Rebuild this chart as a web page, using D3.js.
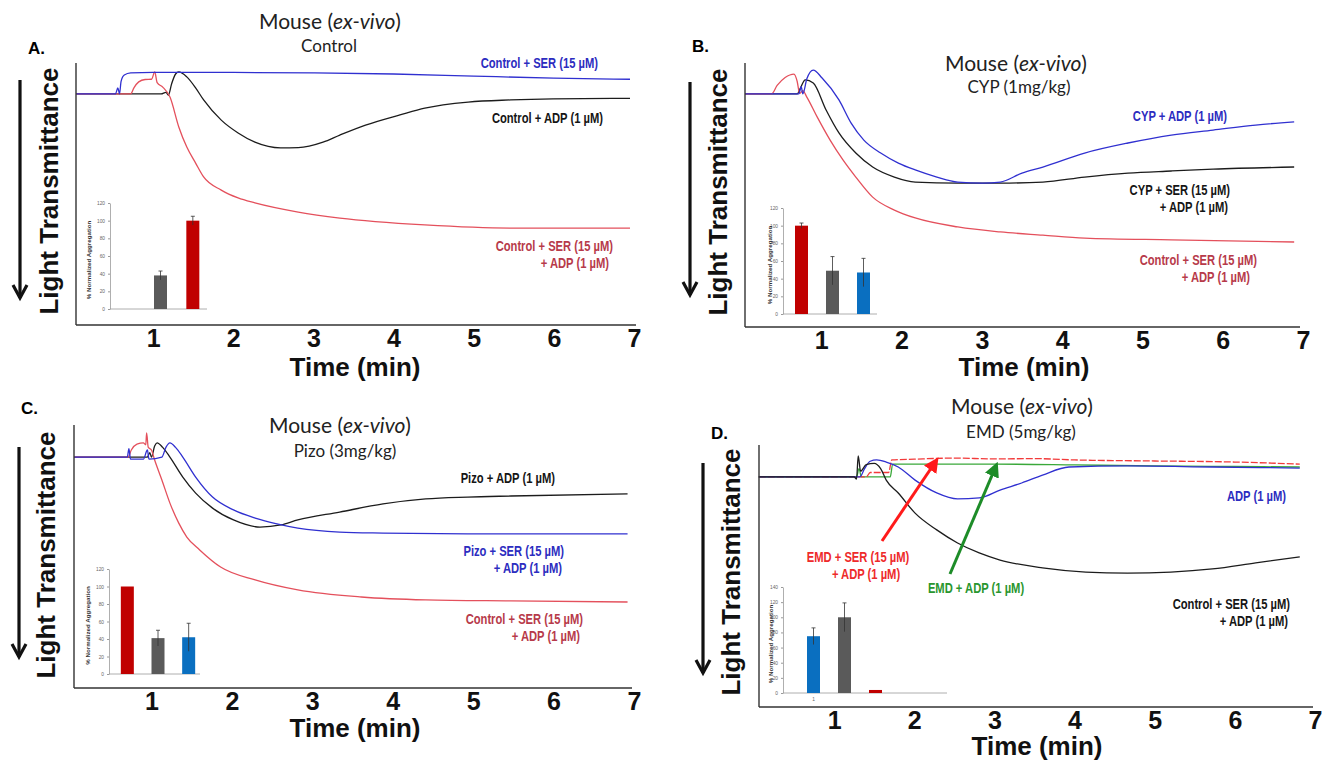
<!DOCTYPE html>
<html>
<head>
<meta charset="utf-8">
<script src="https://cdn.jsdelivr.net/npm/d3@7"></script>
<style>
  body { margin: 0; background: #fff; }
  svg { display: block; }
</style>
</head>
<body>
<svg id="fig" width="1324" height="762"></svg>
<script>
// ---------------------------------------------------------------
// Aggregometry traces: [time (min), trace depth below panel top (% of panel height)]
// ---------------------------------------------------------------
const timeTicks = [1, 2, 3, 4, 5, 6, 7];

// Panel A – Control
const ctrlSerA = [[0.04,11.8],[0.53,11.8],[0.56,9.5],[0.58,11.8],[0.6,7],[0.64,4.6],[0.72,3.8],[1.0,3.6],[2.0,3.6],[3.0,3.8],[4.0,4.2],[5.0,5.0],[6.0,5.8],[6.95,6.2]];
const ctrlAdpA = [[0.04,11.8],[1.1,11.8],[1.16,11.2],[1.19,12.3],[1.23,8],[1.28,4.2],[1.32,3.4],[1.42,5.3],[1.53,9.5],[1.63,14.1],[1.85,21.8],[2.06,26.7],[2.27,30.2],[2.59,32.4],[2.81,32.3],[3.12,30.2],[3.33,27.5],[3.65,23.7],[4.08,19.8],[4.39,17.2],[4.93,14.9],[5.46,14.1],[5.99,13.7],[6.95,13.5]];
const ctrlSerAdpA = [[0.04,11.8],[0.72,11.8],[0.76,9.5],[0.82,7.2],[0.9,6.3],[0.98,6.2],[1.02,3.4],[1.05,7.5],[1.12,9.2],[1.21,13.0],[1.32,24.4],[1.42,32.1],[1.53,38.2],[1.63,43.5],[1.85,48.5],[2.06,51.5],[2.27,53.4],[2.81,56.9],[3.33,59.2],[4.39,61.8],[5.46,63.0],[6.95,63.0]];

// Panel B – CYP (1 mg/kg)
const cypAdpB = [[0.05,11.7],[0.72,11.7],[0.75,9],[0.77,11.7],[0.82,6],[0.90,2.7],[1.01,5.7],[1.22,14.0],[1.37,22.7],[1.53,29.2],[1.74,34.1],[1.96,37.9],[2.17,40.5],[2.44,43.2],[2.70,45.1],[3.01,45.5],[3.23,45.1],[3.50,41.7],[3.76,39.4],[4.28,34.1],[4.82,30.3],[5.36,27.3],[5.88,25.4],[6.41,23.5],[6.89,22.3]];
const cypSerAdpB = [[0.05,11.7],[0.70,11.7],[0.74,9.5],[0.80,6.4],[0.90,7.6],[1.06,17.8],[1.22,26.5],[1.43,34.1],[1.64,39.4],[1.91,43.2],[2.17,45.1],[2.70,45.5],[3.23,45.5],[3.76,45.1],[4.28,43.2],[4.82,41.7],[5.36,40.9],[5.88,40.2],[6.89,39.4]];
const ctrlSerAdpB = [[0.05,11.7],[0.38,11.7],[0.45,8.5],[0.55,5.5],[0.66,4.2],[0.70,7],[0.73,11.5],[0.77,10.5],[0.82,12.9],[0.95,20.5],[1.11,29.2],[1.27,36.7],[1.43,43.2],[1.64,50.8],[1.91,55.7],[2.17,58.7],[2.70,62.1],[3.23,64.0],[3.76,65.2],[4.28,66.3],[5.36,67.0],[6.89,67.8]];

// Panel C – Pizo (3 mg/kg)
const pizoAdpC = [[0.04,12.2],[0.95,12.2],[0.98,10.5],[1.0,12.2],[1.04,8],[1.07,6.8],[1.14,8.5],[1.23,12.2],[1.39,19.8],[1.55,25.9],[1.76,31.6],[2.02,36.1],[2.35,38.8],[2.61,38.0],[2.82,36.1],[3.34,33.1],[3.88,30.0],[4.41,28.1],[4.93,27.4],[5.47,27.0],[6.92,26.2]];
const pizoSerAdpC = [[0.04,12.2],[0.7,12.2],[0.72,9],[0.74,13],[0.9,13],[0.95,9.5],[0.97,13],[1.13,12.2],[1.18,8.5],[1.23,6.8],[1.30,8.5],[1.39,12.2],[1.55,19.8],[1.76,27.4],[2.02,32.3],[2.29,35.4],[2.56,37.6],[2.82,39.2],[3.34,40.7],[3.88,41.1],[4.93,41.4],[6.92,41.4]];
const ctrlSerAdpC = [[0.04,12.2],[0.71,12.2],[0.75,9.5],[0.82,7.3],[0.90,6.8],[0.93,7.5],[0.94,3.0],[0.96,8.4],[1.00,9.5],[1.04,13.3],[1.13,20.9],[1.23,29.7],[1.34,37.3],[1.44,42.6],[1.60,47.5],[1.86,54.0],[2.29,58.9],[2.82,62.7],[3.61,65.4],[4.41,66.5],[5.47,66.9],[6.92,67.3]];

// Panel D – EMD (5 mg/kg)
const ctrlSerAdpD = [[0.06,12.2],[1.25,12.2],[1.28,13],[1.30,4.2],[1.33,10],[1.40,7.5],[1.50,7],[1.58,9],[1.65,13.4],[1.80,18.3],[2.01,26.0],[2.28,32.4],[2.54,37.4],[2.81,41.2],[3.07,43.9],[3.60,46.9],[4.14,48.5],[4.66,48.9],[5.20,48.5],[5.72,47.3],[6.26,45.0],[6.81,42.7]];
const adpD = [[0.06,12.2],[1.32,12.2],[1.38,9],[1.45,6.2],[1.53,5.7],[1.65,6.5],[1.80,8.4],[2.01,13.4],[2.28,18.3],[2.54,20.6],[2.81,20.2],[3.07,17.2],[3.34,14.5],[3.60,11.5],[3.93,8.4],[4.66,8.0],[5.72,8.4],[6.81,8.8]];
const emdSerAdpD = [[0.06,12.2],[1.40,12.2],[1.45,10.5],[1.68,10.5],[1.72,5.7],[2.0,5.4],[2.5,5.0],[3.0,5.3],[3.5,5.2],[4.0,5.7],[5.0,6.1],[6.0,6.5],[6.81,7.3]];
const emdAdpD = [[0.06,12.2],[1.28,12.2],[1.31,9],[1.34,12.2],[1.70,12.2],[1.73,7.3],[3,7.3],[4,7.6],[5,8.0],[6,8.2],[6.81,8.4]];

// Inset bar charts: % normalized aggregation (mean, error)
const insetCatsA = ["Control + SER", "Control + ADP", "Control + SER + ADP"];
const insetValsA = [0, 38, 100];
const insetErrA  = [0, 5, 5];
const insetCatsB = ["Control + SER + ADP", "CYP + SER + ADP", "CYP + ADP"];
const insetValsB = [100, 49, 47];
const insetErrB  = [3, 16, 16];
const insetCatsC = ["Control + SER + ADP", "Pizo + ADP", "Pizo + SER + ADP"];
const insetValsC = [100, 41, 42];
const insetErrC  = [0, 9, 16];
const insetCatsD = ["ADP", "Control + SER + ADP", "EMD + SER + ADP"];
const insetValsD = [75, 100, 4];
const insetErrD  = [11, 19, 0];
const insetTicks120 = [0, 20, 40, 60, 80, 100, 120];
const insetTicks140 = [0, 20, 40, 60, 80, 100, 120, 140];

// ---------------------------------------------------------------
const C = {
  blue: "#3030d0", black: "#1c1c1c", red: "#e4505c",
  blueTxt: "#2c2cc0", redTxt: "#b73a4a", blackTxt: "#151515",
  redD: "#f23a3a", greenD: "#3aa83a", redTxtD: "#ee2a2a", greenTxtD: "#2a962e",
  barRed: "#c00000", barGray: "#5a5a5a", barBlue: "#0a6fc0"
};
const boldFont = "'Liberation Sans', Arial, sans-serif";
const titleFont = "Lato, 'Open Sans', sans-serif";
const labelSqueeze = 0.8;   // condensed look for the trace labels

const panels = [
  {
    letter: "A.", letterPos: [28, 54],
    sub: "Control", titleX: 330, titleY: 29, subX: 329, subY: 52,
    axisX: 76, top: 63, bottom: 325, xRange: [73, 634], axisEnd: 636,
    timeX: 355, timeY: 376, arrow: [20, 80, 298], ylab: [58, 191],
    traces: [
      { data: ctrlAdpA, color: C.black },
      { data: ctrlSerAdpA, color: C.red },
      { data: ctrlSerA, color: C.blue }
    ],
    labels: [
      { lines: ["Control + SER (15 µM)"], x: [598], y: 68, color: C.blueTxt },
      { lines: ["Control + ADP (1 µM)"], x: [603], y: 123, color: C.blackTxt },
      { lines: ["Control + SER (15 µM)", "+ ADP (1 µM)"], x: [613, 609], y: 251, color: C.redTxt }
    ],
    inset: { cats: insetCatsA, vals: insetValsA, errs: insetErrA,
             colors: [C.barBlue, C.barGray, C.barRed], ticks: insetTicks120,
             axisX: 110, top: 203, bottom: 309, range: [112, 209], axisEnd: 207, labelX: 91 }
  },
  {
    letter: "B.", letterPos: [692, 52],
    sub: "CYP (1mg/kg)", titleX: 1016, titleY: 71, subX: 1019, subY: 93,
    axisX: 745, top: 63, bottom: 327, xRange: [741, 1303], axisEnd: 1300,
    timeX: 1024, timeY: 376, arrow: [690, 82, 295], ylab: [727, 192],
    traces: [
      { data: cypSerAdpB, color: C.black },
      { data: ctrlSerAdpB, color: C.red },
      { data: cypAdpB, color: C.blue }
    ],
    labels: [
      { lines: ["CYP + ADP (1 µM)"], x: [1227], y: 121, color: C.blueTxt },
      { lines: ["CYP + SER (15 µM)", "+ ADP (1 µM)"], x: [1230, 1228], y: 195, color: C.blackTxt },
      { lines: ["Control + SER (15 µM)", "+ ADP (1 µM)"], x: [1257, 1250], y: 265, color: C.redTxt }
    ],
    inset: { cats: insetCatsB, vals: insetValsB, errs: insetErrB,
             colors: [C.barRed, C.barGray, C.barBlue], ticks: insetTicks120,
             axisX: 783, top: 208, bottom: 314, range: [786, 879], axisEnd: 877, labelX: 772 }
  },
  {
    letter: "C.", letterPos: [21, 414],
    sub: "Pizo (3mg/kg)", titleX: 340, titleY: 433, subX: 345, subY: 457,
    axisX: 74, top: 425, bottom: 688, xRange: [71, 634], axisEnd: 632,
    timeX: 355, timeY: 737, arrow: [19, 447, 657], ylab: [55, 555],
    traces: [
      { data: pizoAdpC, color: C.black },
      { data: ctrlSerAdpC, color: C.red },
      { data: pizoSerAdpC, color: C.blue }
    ],
    labels: [
      { lines: ["Pizo + ADP (1 µM)"], x: [555], y: 483, color: C.blackTxt },
      { lines: ["Pizo + SER (15 µM)", "+ ADP (1 µM)"], x: [564, 562], y: 556, color: C.blueTxt },
      { lines: ["Control + SER (15 µM)", "+ ADP (1 µM)"], x: [583, 580], y: 624, color: C.redTxt }
    ],
    inset: { cats: insetCatsC, vals: insetValsC, errs: insetErrC,
             colors: [C.barRed, C.barGray, C.barBlue], ticks: insetTicks120,
             axisX: 109, top: 569, bottom: 674, range: [112, 204], axisEnd: 200, labelX: 90 }
  },
  {
    letter: "D.", letterPos: [711, 439],
    sub: "EMD (5mg/kg)", titleX: 1022, titleY: 414, subX: 1021, subY: 438,
    axisX: 759, top: 445, bottom: 707, xRange: [754, 1315], axisEnd: 1313,
    timeX: 1037, timeY: 755, arrow: [703, 463, 673], ylab: [740, 572],
    traces: [
      { data: emdAdpD, color: C.greenD },
      { data: emdSerAdpD, color: C.redD, dash: "7 2" },
      { data: adpD, color: C.blue },
      { data: ctrlSerAdpD, color: C.black }
    ],
    labels: [
      { lines: ["ADP (1 µM)"], x: [1286], y: 501, color: C.blueTxt },
      { lines: ["EMD + SER (15 µM)", "+ ADP (1 µM)"], x: [858, 866], y: 562, color: C.redTxtD, anchor: "middle" },
      { lines: ["EMD + ADP (1 µM)"], x: [976], y: 593, color: C.greenTxtD, anchor: "middle" },
      { lines: ["Control + SER (15 µM)", "+ ADP (1 µM)"], x: [1290, 1288], y: 609, color: C.blackTxt }
    ],
    pointers: [
      { from: [882, 541], to: [936, 461], color: "#ff1a1a" },
      { from: [950, 574], to: [996, 466], color: "#1d8c28" }
    ],
    inset: { cats: insetCatsD, vals: insetValsD, errs: insetErrD,
             colors: [C.barBlue, C.barGray, C.barRed], ticks: insetTicks140,
             axisX: 783, top: 587, bottom: 693, range: [798, 891], axisEnd: 947, labelX: 773,
             catTick: "1" }
  }
];

const svg = d3.select("#fig");
const defs = svg.append("defs");
["#ff1a1a", "#1d8c28"].forEach((col, i) => {
  defs.append("marker").attr("id", "ah" + i)
    .attr("viewBox", "0 0 10 10").attr("refX", 7).attr("refY", 5)
    .attr("markerWidth", 5).attr("markerHeight", 5).attr("orient", "auto")
    .attr("markerUnits", "strokeWidth")
    .append("path").attr("d", "M0,0 L10,5 L0,10 Z").attr("fill", col);
});

panels.forEach(p => {
  const g = svg.append("g");
  const x = d3.scaleLinear().domain([0, 7]).range(p.xRange);
  const y = d3.scaleLinear().domain([0, 100]).range([p.top, p.bottom]);

  // panel letter
  g.append("text").attr("x", p.letterPos[0]).attr("y", p.letterPos[1])
    .attr("font-family", boldFont).attr("font-weight", "bold").attr("font-size", 17)
    .text(p.letter);

  // title + treatment
  const t = g.append("text").attr("x", p.titleX).attr("y", p.titleY)
    .attr("text-anchor", "middle").attr("font-family", titleFont)
    .attr("font-size", 21).attr("fill", "#222");
  t.append("tspan").text("Mouse (");
  t.append("tspan").attr("font-style", "italic").text("ex-vivo");
  t.append("tspan").text(")");
  g.append("text").attr("x", p.subX).attr("y", p.subY)
    .attr("text-anchor", "middle").attr("font-family", titleFont)
    .attr("font-size", 17).attr("fill", "#222").text(p.sub);

  // traces
  const line = d3.line().x(d => x(d[0])).y(d => y(d[1])).curve(d3.curveMonotoneX);
  p.traces.forEach(tr => {
    g.append("path").datum(tr.data).attr("d", line)
      .attr("fill", "none").attr("stroke", tr.color).attr("stroke-width", 1.3)
      .attr("stroke-dasharray", tr.dash || null).attr("stroke-linejoin", "round");
  });

  // axes frame
  g.append("line").attr("x1", p.axisX).attr("x2", p.axisX).attr("y1", p.top).attr("y2", p.bottom)
    .attr("stroke", "#333").attr("stroke-width", 1.4);
  g.append("line").attr("x1", p.axisX).attr("x2", p.axisEnd).attr("y1", p.bottom).attr("y2", p.bottom)
    .attr("stroke", "#333").attr("stroke-width", 1.4);

  const ax = g.append("g").attr("transform", `translate(0,${p.bottom})`)
    .call(d3.axisBottom(x).tickValues(timeTicks).tickSize(0).tickPadding(4).tickFormat(d3.format("d")));
  ax.select(".domain").remove();
  ax.selectAll("text").attr("font-family", boldFont).attr("font-weight", "bold")
    .attr("font-size", 25).attr("fill", "#111");

  g.append("text").attr("x", p.timeX).attr("y", p.timeY).attr("text-anchor", "middle")
    .attr("font-family", boldFont).attr("font-weight", "bold").attr("font-size", 26)
    .attr("fill", "#111").text("Time (min)");

  g.append("text").attr("transform", `translate(${p.ylab[0]},${p.ylab[1]}) rotate(-90)`)
    .attr("text-anchor", "middle").attr("font-family", boldFont).attr("font-weight", "bold")
    .attr("font-size", 26).attr("fill", "#111").text("Light Transmittance");

  // downward arrow (direction of aggregation)
  const [axX, ay1, ay2] = p.arrow;
  g.append("path").attr("d", `M${axX},${ay1} L${axX},${ay2}`)
    .attr("stroke", "#111").attr("stroke-width", 3.2).attr("fill", "none");
  g.append("path").attr("d", `M${axX - 7},${ay2 - 13} L${axX},${ay2} L${axX + 7},${ay2 - 13}`)
    .attr("stroke", "#111").attr("stroke-width", 3.2).attr("fill", "none")
    .attr("stroke-linejoin", "miter");

  // trace labels (horizontally condensed)
  p.labels.forEach(lb => {
    lb.lines.forEach((s, i) => {
      g.append("text")
        .attr("transform", `translate(${lb.x[i]},${lb.y + i * 16.5}) scale(${labelSqueeze},1)`)
        .attr("text-anchor", lb.anchor || "end")
        .attr("font-family", boldFont).attr("font-weight", "bold").attr("font-size", 14)
        .attr("fill", lb.color).text(s);
    });
  });

  // pointer arrows
  (p.pointers || []).forEach((pt, i) => {
    g.append("line").attr("x1", pt.from[0]).attr("y1", pt.from[1])
      .attr("x2", pt.to[0]).attr("y2", pt.to[1])
      .attr("stroke", pt.color).attr("stroke-width", 3)
      .attr("marker-end", `url(#ah${i})`);
  });

  drawInset(g, p.inset);
});

function drawInset(g, c) {
  const max = c.ticks[c.ticks.length - 1];
  const y = d3.scaleLinear().domain([0, max]).range([c.bottom, c.top]);
  const x = d3.scalePoint().domain(c.cats).range(c.range).padding(0.5);
  const bw = 13;

  const ay = g.append("g").attr("transform", `translate(${c.axisX},0)`)
    .call(d3.axisLeft(y).tickValues(c.ticks).tickSize(2).tickPadding(3).tickSizeOuter(0));
  ay.select(".domain").attr("stroke", "#9a9a9a").attr("stroke-width", 0.8);
  ay.selectAll(".tick line").attr("stroke", "#9a9a9a");
  ay.selectAll("text").attr("font-family", boldFont).attr("font-size", 4.8).attr("fill", "#666");

  g.append("line").attr("x1", c.axisX).attr("x2", c.axisEnd)
    .attr("y1", c.bottom).attr("y2", c.bottom).attr("stroke", "#9a9a9a").attr("stroke-width", 0.8);

  g.append("text")
    .attr("transform", `translate(${c.labelX},${(c.top + c.bottom) / 2 + 4}) rotate(-90)`)
    .attr("text-anchor", "middle").attr("font-family", boldFont).attr("font-weight", "bold")
    .attr("font-size", 6.2).attr("fill", "#333").text("% Normalized Aggregation");

  c.cats.forEach((cat, i) => {
    const cx = x(cat), v = c.vals[i], e = c.errs[i];
    g.append("rect").attr("x", cx - bw / 2).attr("y", y(v)).attr("width", bw)
      .attr("height", c.bottom - y(v)).attr("fill", c.colors[i]);
    if (e > 0) {
      g.append("path")
        .attr("d", `M${cx},${y(v - e)} L${cx},${y(v + e)} M${cx - 2},${y(v + e)} L${cx + 2},${y(v + e)}`)
        .attr("stroke", "#333").attr("stroke-width", 0.8).attr("fill", "none");
    }
  });

  if (c.catTick) {
    g.append("text").attr("x", x(c.cats[0])).attr("y", c.bottom + 8)
      .attr("text-anchor", "middle").attr("font-family", boldFont)
      .attr("font-size", 4.8).attr("fill", "#666").text(c.catTick);
  }
}
</script>
</body>
</html>
